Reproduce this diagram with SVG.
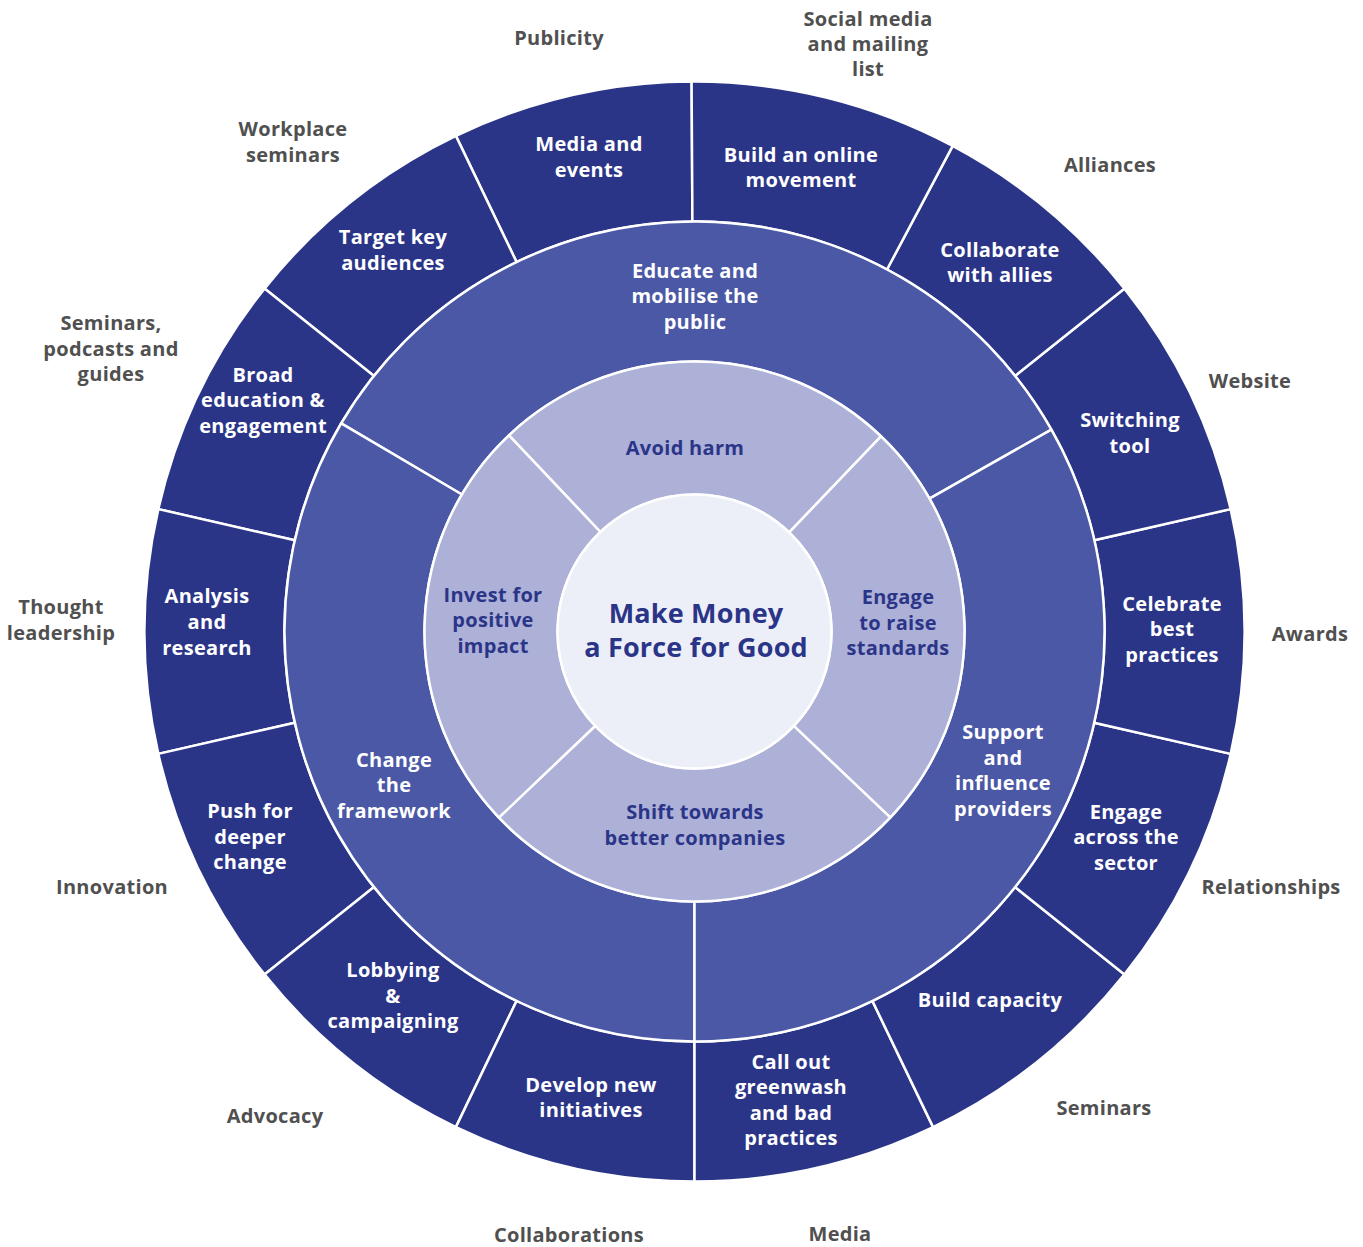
<svg xmlns="http://www.w3.org/2000/svg" width="1363" height="1247" viewBox="0 0 1363 1247">
<style>
.seg{stroke:#fff;stroke-width:2.5;stroke-linejoin:round}
.o{fill:#2B3588}
.m{fill:#4A58A6}
.i{fill:#ADB0D7}
.c{fill:#EDEFF8}
text{font-family:"Open Sans","Liberation Sans",sans-serif;font-weight:700;font-size:20px;text-anchor:middle;letter-spacing:0.3px}
.w{fill:#fff}
.n{fill:#2B3588}
.g{fill:#505050}
.t{font-size:27px;letter-spacing:0.2px}
</style>
<rect width="1363" height="1247" fill="#fff"/>
<g id="outer-ring">
<g id="media-events"><path class="seg o" d="M691.6,81.5 A550,550 0 0 0 455.9,135.9 L516.6,262.1 A410,410 0 0 1 692.4,221.5 Z"/><text class="w"><tspan x="589" y="151">Media and</tspan><tspan x="589" y="177">events</tspan></text></g>
<g id="target-key-audiences"><path class="seg o" d="M455.9,135.9 A550,550 0 0 0 264.5,288.6 L374.0,375.9 A410,410 0 0 1 516.6,262.1 Z"/><text class="w"><tspan x="393" y="244">Target key</tspan><tspan x="393" y="270">audiences</tspan></text></g>
<g id="broad-education"><path class="seg o" d="M264.5,288.6 A550,550 0 0 0 158.3,509.1 L294.8,540.3 A410,410 0 0 1 374.0,375.9 Z"/><text class="w"><tspan x="263" y="382">Broad</tspan><tspan x="263" y="407">education &amp;</tspan><tspan x="263" y="433">engagement</tspan></text></g>
<g id="analysis-research"><path class="seg o" d="M158.3,509.1 A550,550 0 0 0 158.3,753.9 L294.8,722.7 A410,410 0 0 1 294.8,540.3 Z"/><text class="w"><tspan x="207" y="603">Analysis</tspan><tspan x="207" y="629">and</tspan><tspan x="207" y="655">research</tspan></text></g>
<g id="push-deeper-change"><path class="seg o" d="M158.3,753.9 A550,550 0 0 0 264.5,974.4 L374.0,887.1 A410,410 0 0 1 294.8,722.7 Z"/><text class="w"><tspan x="250" y="818">Push for</tspan><tspan x="250" y="844">deeper</tspan><tspan x="250" y="869">change</tspan></text></g>
<g id="lobbying-campaigning"><path class="seg o" d="M264.5,974.4 A550,550 0 0 0 455.9,1127.1 L516.6,1000.9 A410,410 0 0 1 374.0,887.1 Z"/><text class="w"><tspan x="393" y="977">Lobbying</tspan><tspan x="393" y="1003">&amp;</tspan><tspan x="393" y="1028">campaigning</tspan></text></g>
<g id="develop-new-initiatives"><path class="seg o" d="M455.9,1127.1 A550,550 0 0 0 694.5,1181.5 L694.5,1041.5 A410,410 0 0 1 516.6,1000.9 Z"/><text class="w"><tspan x="591" y="1092">Develop new</tspan><tspan x="591" y="1117">initiatives</tspan></text></g>
<g id="call-out-greenwash"><path class="seg o" d="M694.5,1181.5 A550,550 0 0 0 933.1,1127.1 L872.4,1000.9 A410,410 0 0 1 694.5,1041.5 Z"/><text class="w"><tspan x="791" y="1069">Call out</tspan><tspan x="791" y="1094">greenwash</tspan><tspan x="791" y="1120">and bad</tspan><tspan x="791" y="1145">practices</tspan></text></g>
<g id="build-capacity"><path class="seg o" d="M933.1,1127.1 A550,550 0 0 0 1124.5,974.4 L1015.0,887.1 A410,410 0 0 1 872.4,1000.9 Z"/><text class="w"><tspan x="990" y="1007">Build capacity</tspan></text></g>
<g id="engage-across-sector"><path class="seg o" d="M1124.5,974.4 A550,550 0 0 0 1230.7,753.9 L1094.2,722.7 A410,410 0 0 1 1015.0,887.1 Z"/><text class="w"><tspan x="1126" y="819">Engage</tspan><tspan x="1126" y="844">across the</tspan><tspan x="1126" y="870">sector</tspan></text></g>
<g id="celebrate-best-practices"><path class="seg o" d="M1230.7,753.9 A550,550 0 0 0 1230.7,509.1 L1094.2,540.3 A410,410 0 0 1 1094.2,722.7 Z"/><text class="w"><tspan x="1172" y="611">Celebrate</tspan><tspan x="1172" y="636">best</tspan><tspan x="1172" y="662">practices</tspan></text></g>
<g id="switching-tool"><path class="seg o" d="M1230.7,509.1 A550,550 0 0 0 1124.5,288.6 L1015.0,375.9 A410,410 0 0 1 1094.2,540.3 Z"/><text class="w"><tspan x="1130" y="427">Switching</tspan><tspan x="1130" y="453">tool</tspan></text></g>
<g id="collaborate-allies"><path class="seg o" d="M1124.5,288.6 A550,550 0 0 0 952.7,145.9 L887.0,269.5 A410,410 0 0 1 1015.0,375.9 Z"/><text class="w"><tspan x="1000" y="257">Collaborate</tspan><tspan x="1000" y="282">with allies</tspan></text></g>
<g id="online-movement"><path class="seg o" d="M952.7,145.9 A550,550 0 0 0 691.6,81.5 L692.4,221.5 A410,410 0 0 1 887.0,269.5 Z"/><text class="w"><tspan x="801" y="162">Build an online</tspan><tspan x="801" y="187">movement</tspan></text></g>
</g>
<g id="middle-ring">
<g id="educate-mobilise"><path class="seg m" d="M1051.4,429.6 A410,410 0 0 0 341.2,423.4 L461.9,494.5 A270,270 0 0 1 929.5,498.6 Z"/><text class="w"><tspan x="695" y="278">Educate and</tspan><tspan x="695" y="303">mobilise the</tspan><tspan x="695" y="329">public</tspan></text></g>
<g id="change-framework"><path class="seg m" d="M341.2,423.4 A410,410 0 0 0 694.5,1041.5 L694.5,901.5 A270,270 0 0 1 461.9,494.5 Z"/><text class="w"><tspan x="394" y="767">Change</tspan><tspan x="394" y="792">the</tspan><tspan x="394" y="818">framework</tspan></text></g>
<g id="support-providers"><path class="seg m" d="M694.5,1041.5 A410,410 0 0 0 1051.4,429.6 L929.5,498.6 A270,270 0 0 1 694.5,901.5 Z"/><text class="w"><tspan x="1003" y="739">Support</tspan><tspan x="1003" y="765">and</tspan><tspan x="1003" y="790">influence</tspan><tspan x="1003" y="816">providers</tspan></text></g>
</g>
<g id="inner-ring">
<g id="avoid-harm"><path class="seg i" d="M881.0,436.3 A270,270 0 0 0 509.0,435.3 L600.4,532.0 A137,137 0 0 1 789.2,532.4 Z"/><text class="n"><tspan x="685" y="455">Avoid harm</tspan></text></g>
<g id="invest-positive"><path class="seg i" d="M509.0,435.3 A270,270 0 0 0 499.0,817.7 L595.3,726.0 A137,137 0 0 1 600.4,532.0 Z"/><text class="n"><tspan x="493" y="602">Invest for</tspan><tspan x="493" y="627">positive</tspan><tspan x="493" y="653">impact</tspan></text></g>
<g id="shift-better"><path class="seg i" d="M499.0,817.7 A270,270 0 0 0 890.4,817.4 L793.9,725.8 A137,137 0 0 1 595.3,726.0 Z"/><text class="n"><tspan x="695" y="819">Shift towards</tspan><tspan x="695" y="845">better companies</tspan></text></g>
<g id="engage-raise"><path class="seg i" d="M890.4,817.4 A270,270 0 0 0 881.0,436.3 L789.2,532.4 A137,137 0 0 1 793.9,725.8 Z"/><text class="n"><tspan x="898" y="604">Engage</tspan><tspan x="898" y="630">to raise</tspan><tspan x="898" y="655">standards</tspan></text></g>
</g>
<g id="center">
<circle class="seg c" cx="694.5" cy="631.5" r="137"/>
<text class="n t"><tspan x="696" y="623">Make Money</tspan><tspan x="696" y="657">a Force for Good</tspan></text>
</g>
<g id="outside-labels">
<text class="g"><tspan x="559" y="45">Publicity</tspan></text>
<text class="g"><tspan x="868" y="26">Social media</tspan><tspan x="868" y="51">and mailing</tspan><tspan x="868" y="76">list</tspan></text>
<text class="g"><tspan x="293" y="136">Workplace</tspan><tspan x="293" y="162">seminars</tspan></text>
<text class="g"><tspan x="1110" y="172">Alliances</tspan></text>
<text class="g"><tspan x="111" y="330">Seminars,</tspan><tspan x="111" y="356">podcasts and</tspan><tspan x="111" y="381">guides</tspan></text>
<text class="g"><tspan x="1250" y="388">Website</tspan></text>
<text class="g"><tspan x="61" y="614">Thought</tspan><tspan x="61" y="640">leadership</tspan></text>
<text class="g"><tspan x="1310" y="641">Awards</tspan></text>
<text class="g"><tspan x="112" y="894">Innovation</tspan></text>
<text class="g"><tspan x="1271" y="894">Relationships</tspan></text>
<text class="g"><tspan x="275" y="1123">Advocacy</tspan></text>
<text class="g"><tspan x="1104" y="1115">Seminars</tspan></text>
<text class="g"><tspan x="569" y="1242">Collaborations</tspan></text>
<text class="g"><tspan x="840" y="1241">Media</tspan></text>
</g>
</svg>
